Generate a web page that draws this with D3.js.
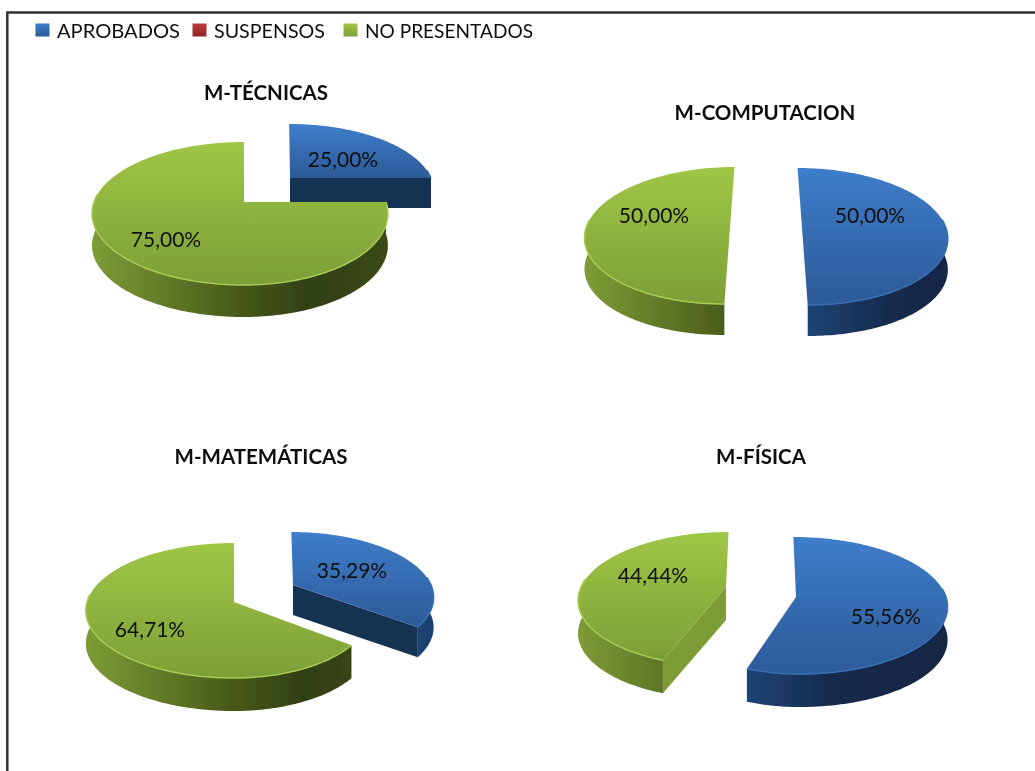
<!DOCTYPE html>
<html>
<head>
<meta charset="utf-8">
<script src="https://cdn.jsdelivr.net/npm/d3@7"></script>
<style>
	html, body { margin: 0; padding: 0; background: #fff; }
	svg { display: block; }
	text { font-family: Lato, "Open Sans", sans-serif; fill: #111; }
</style>
</head>
<body>
<div id="chart"></div>
<script>
// valores
var titles = ['M-TÉCNICAS', 'M-COMPUTACION', 'M-MATEMÁTICAS', 'M-FÍSICA'];
var seriesNames = ['APROBADOS', 'SUSPENSOS', 'NO PRESENTADOS'];
var aprobados = [25.00, 50.00, 35.29, 55.56];
var suspensos = [0, 0, 0, 0];
var noPresentados = [75.00, 50.00, 64.71, 44.44];

var width = 1035, height = 771;

// donde cae cada tarta: centro, radios izq/der, arriba/abajo, inclinacion, grosor
var layout = [
	{
		title: [266, 92],
		slices: [
			{ cx: 290, cy: 178, rl: 140, rr: 141, up: 54, down: 78, sh: -1, depth: 30, label: [343, 158] },
			null,
			{ cx: 244, cy: 202, rl: 150, rr: 142, up: 60, down: 83, sh: 0, depth: 32, label: [166, 238] }
		]
	},
	{
		title: [765, 112],
		slices: [
			{ cx: 802, cy: 228, rl: 146, rr: 144, up: 60, down: 77, sh: -5, depth: 31, label: [870, 214] },
			null,
			{ cx: 730, cy: 228, rl: 144, rr: 146, up: 61, down: 76, sh: 5, depth: 31, label: [654, 214] }
		]
	},
	{
		title: [261, 456],
		slices: [
			{ cx: 293, cy: 585, rl: 138, rr: 138, up: 53, down: 76, sh: -2, depth: 30, label: [352, 569] },
			null,
			{ cx: 234, cy: 602, rl: 147, rr: 136, up: 59, down: 76, sh: 0, depth: 33, label: [150, 628] }
		]
	},
	{
		title: [761, 456],
		slices: [
			{ cx: 796, cy: 597, rl: 135, rr: 150, up: 60, down: 77, sh: -3, depth: 33, label: [886, 615] },
			null,
			{ cx: 726, cy: 587, rl: 145, rr: 146, up: 55, down: 79, sh: 3, depth: 33, label: [653, 574] }
		]
	}
];

var legendX = [35, 192, 343];
var legendTextWidth = [123, 111, 168];

var topColors = [['#3f7dca', '#2c5a97'], ['#c0393a', '#8e2526'], ['#9fc746', '#7d9e38']];
var rimColors = ['#3a70b4', null, '#a6cc52'];
var wallStops = [
	[[0, '#1f4474'], [0.3, '#14294a'], [1, '#122440']],
	null,
	[[0, '#7d9c36'], [0.3, '#5e7426'], [0.48, '#4a5c1a'], [0.75, '#323f12'], [1, '#3a4814']]
];
var faceColors = ['#183152', null, '#7c9c36'];
var wallSpan = 290;

var svg = d3.select('#chart').append('svg')
	.attr('width', width)
	.attr('height', height);

var defs = svg.append('defs');
defs.append('filter').attr('id', 'soft')
	.attr('filterUnits', 'userSpaceOnUse')
	.attr('x', 0).attr('y', 0).attr('width', width).attr('height', height)
	.append('feGaussianBlur').attr('stdDeviation', 0.7);

topColors.forEach(function (c, i) {
	let g = defs.append('linearGradient').attr('id', 'top' + i)
		.attr('x1', 0).attr('y1', 0).attr('x2', 0).attr('y2', 1);
	g.append('stop').attr('offset', '0%').attr('stop-color', c[0]);
	g.append('stop').attr('offset', '100%').attr('stop-color', c[1]);
});

var root = svg.append('g').attr('filter', 'url(#soft)');

// marco: solo arriba e izquierda, el resto queda fuera de la captura
root.append('path')
	.attr('d', 'M7.3,' + height + 'V12.5H' + width)
	.attr('fill', 'none')
	.attr('stroke', '#333')
	.attr('stroke-width', 2.5);

// proyeccion del disco con perspectiva: angulo 0 arriba, sentido horario
function project(s, a, t) {
	let k = (s.down - s.up) / (s.down + s.up);
	let X = t * Math.sin(a), Z = t * Math.cos(a);
	let w = 1 + k * Z;
	let R = X < 0 ? s.rl : s.rr;
	return [s.cx + (R * X + s.sh * Z) / w, s.cy - s.up * (1 + k) * Z / w];
}

function arcPoints(s, a0, a1) {
	let n = Math.max(2, Math.ceil((a1 - a0) / 0.02));
	return d3.range(n + 1).map(function (i) {
		return project(s, a0 + (a1 - a0) * i / n, 1);
	});
}

var line = d3.line();

function down(points, depth) {
	return points.map(function (p) { return [p[0], p[1] + depth]; });
}

// degradado horizontal de la pared, empieza en su borde izquierdo
function wallGradient(id, i, left) {
	let g = defs.append('linearGradient').attr('id', id)
		.attr('gradientUnits', 'userSpaceOnUse')
		.attr('x1', left).attr('y1', 0).attr('x2', left + wallSpan).attr('y2', 0);
	wallStops[i].forEach(function (st) {
		g.append('stop').attr('offset', st[0]).attr('stop-color', st[1]);
	});
	return 'url(#' + id + ')';
}

function drawSlice(g, d, s, i, p) {
	let a0 = d.startAngle, a1 = d.endAngle;
	let center = project(s, 0, 0);
	let w0 = Math.max(a0, Math.PI * 0.46), w1 = Math.min(a1, Math.PI * 1.54);
	let front = w1 > w0 ? arcPoints(s, w0, w1) : null;

	// pared exterior, solo la parte que mira al frente
	if (front) {
		let left = d3.min(front, function (q) { return q[0]; });
		g.append('path')
			.attr('d', line(front.concat(down(front, s.depth).reverse())) + 'Z')
			.attr('fill', wallGradient('wall' + p + '-' + i, i, left));
	}
	// caras del corte
	[[a0, Math.sin(a0) < -0.01], [a1, Math.sin(a1) > 0.01]].forEach(function (e) {
		if (!e[1]) return;
		let q = project(s, e[0], 1);
		let quad = [center, q, [q[0], q[1] + s.depth], [center[0], center[1] + s.depth]];
		g.append('path').attr('d', line(quad) + 'Z').attr('fill', faceColors[i]);
	});
	// tapa
	g.append('path')
		.attr('d', line([center].concat(arcPoints(s, a0, a1))) + 'Z')
		.attr('fill', 'url(#top' + i + ')');
	// filo claro entre tapa y pared
	if (front) {
		g.append('path')
			.attr('d', line(front))
			.attr('fill', 'none')
			.attr('stroke', rimColors[i])
			.attr('stroke-width', 1.5);
	}
}

var pie = d3.pie().sort(null).value(function (d) { return d; });

titles.forEach(function (title, p) {
	let g = root.append('g').attr('class', 'pie');
	let arcs = pie([aprobados[p], suspensos[p], noPresentados[p]]);
	let pos = layout[p];

	arcs.forEach(function (d, i) {
		if (d.value > 0) drawSlice(g, d, pos.slices[i], i, p);
	});
	arcs.forEach(function (d, i) {
		if (d.value <= 0) return;
		g.append('text')
			.attr('x', pos.slices[i].label[0])
			.attr('y', pos.slices[i].label[1])
			.attr('text-anchor', 'middle')
			.attr('dominant-baseline', 'central')
			.style('font-size', '21px')
			.text(d.value.toFixed(2).replace('.', ',') + '%');
	});
	g.append('text')
		.attr('x', pos.title[0])
		.attr('y', pos.title[1])
		.attr('text-anchor', 'middle')
		.attr('dominant-baseline', 'central')
		.style('font-size', '20.5px')
		.style('font-weight', 'bold')
		.text(title);
});

// leyenda
var legend = root.append('g').attr('class', 'legend');
seriesNames.forEach(function (name, i) {
	legend.append('rect')
		.attr('x', legendX[i] + 0.5)
		.attr('y', 23.5)
		.attr('width', 14)
		.attr('height', 13)
		.attr('fill', 'url(#top' + i + ')');
	legend.append('text')
		.attr('x', legendX[i] + 22)
		.attr('y', 30)
		.attr('dominant-baseline', 'central')
		.attr('textLength', legendTextWidth[i])
		.attr('lengthAdjust', 'spacingAndGlyphs')
		.style('font-size', '20px')
		.text(name);
});
</script>
</body>
</html>
